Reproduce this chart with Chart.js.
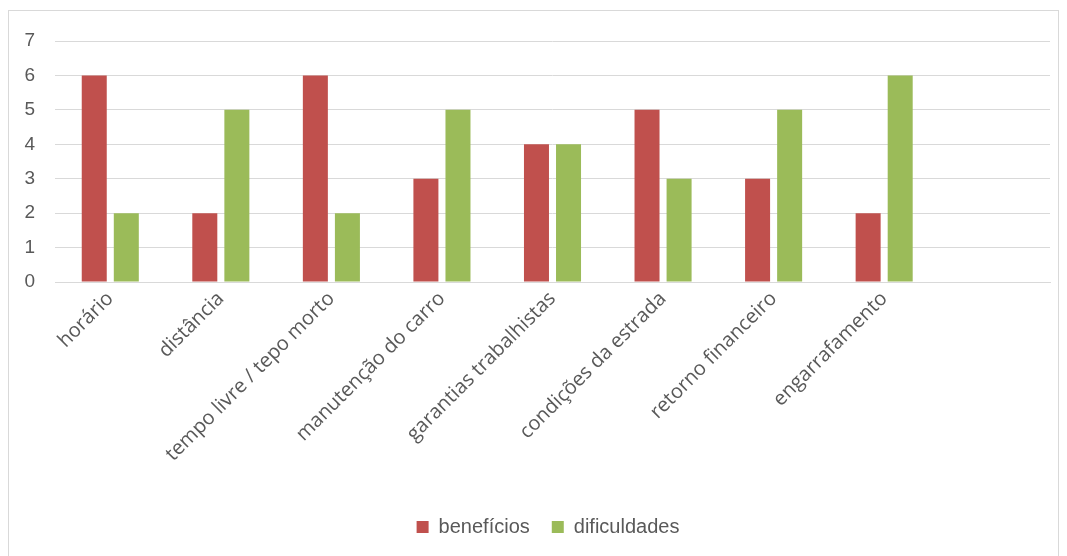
<!DOCTYPE html>
<html>
<head>
<meta charset="utf-8">
<script src="https://cdn.jsdelivr.net/npm/chart.js@4.4.0/dist/chart.umd.min.js"></script>
<style>
  html, body { margin: 0; padding: 0; background: #fff; }
  #wrap { position: relative; width: 1067px; height: 556px; }
  #frame { position: absolute; left: 8px; top: 10px; width: 1051px; height: 560px; border: 1px solid #d9d9d9; box-sizing: border-box; }
  canvas { position: absolute; left: 0; top: 0; }
</style>
</head>
<body>
<div id="wrap">
  <div id="frame"></div>
  <canvas id="chart" width="1067" height="556"></canvas>
</div>
<script>
const categories = [
  "horário", "distância", "tempo livre / tepo morto", "manutenção do carro",
  "garantias trabalhistas", "condições da estrada", "retorno financeiro",
  "engarrafamento", ""
]
const beneficios = [6, 2, 6, 3, 4, 5, 3, 2, null]
const dificuldades = [2, 5, 2, 5, 4, 3, 5, 6, null]
const yTicks = [0, 1, 2, 3, 4, 5, 6, 7]

const gridColor = "#d9d9d9"
const textColor = "#595959"

// nudge the bottom legend a little to the right of centre
const legendShift = {
  id: "legendShift",
  afterLayout(chart) {
    chart.legend.left += 23
    chart.legend.right += 23
  },
}

const ctx = document.getElementById("chart").getContext("2d")
new Chart(ctx, {
  type: "bar",
  data: {
    labels: categories,
    datasets: [
      {
        label: "benefícios",
        data: beneficios,
        backgroundColor: "#c0504d",
        categoryPercentage: 0.58,
        barPercentage: 0.78,
      },
      {
        label: "dificuldades",
        data: dificuldades,
        backgroundColor: "#9bbb59",
        categoryPercentage: 0.58,
        barPercentage: 0.78,
      },
    ],
  },
  plugins: [legendShift],
  options: {
    responsive: false,
    animation: false,
    layout: { padding: { left: 0, right: 17, top: 41, bottom: 9 } },
    plugins: {
      tooltip: { enabled: false },
      legend: {
        position: "bottom",
        labels: {
          color: textColor,
          font: { family: "'Liberation Sans', Arial, sans-serif", size: 20 },
          boxWidth: 12,
          boxHeight: 12,
          padding: 22,
        },
      },
    },
    scales: {
      x: {
        grid: { display: false, drawTicks: false },
        border: { display: true, color: gridColor, width: 1 },
        ticks: {
          color: textColor,
          font: { family: "'Open Sans', sans-serif", size: 20 },
          maxRotation: 45,
          minRotation: 45,
          autoSkip: false,
          padding: 5,
        },
        afterFit: (scale) => { scale.height = 213 },
      },
      y: {
        min: 0,
        max: 7,
        afterBuildTicks: (scale) => { scale.ticks = yTicks.map(v => ({ value: v })) },
        grid: { color: gridColor, lineWidth: 1, drawTicks: false },
        border: { display: false },
        ticks: {
          color: textColor,
          font: { family: "'Liberation Sans', Arial, sans-serif", size: 19 },
          padding: 20,
        },
        afterFit: (scale) => { scale.width = 55 },
      },
    },
  },
})
</script>
</body>
</html>
